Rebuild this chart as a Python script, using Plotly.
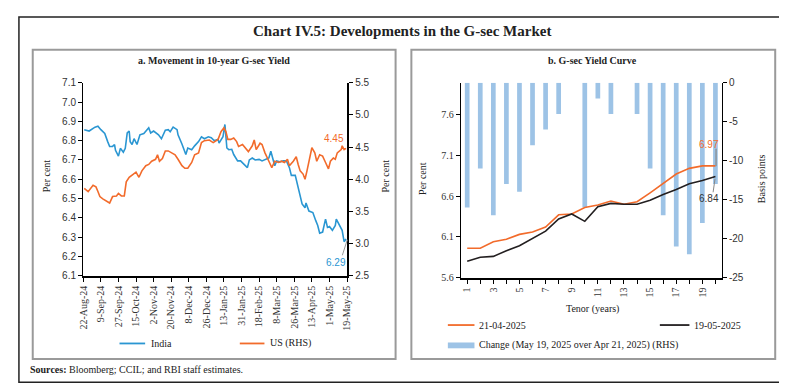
import plotly.graph_objects as go
import pandas as pd

W, H = 787, 387

def px(x):
    return x / W

def py(y):
    return 1 - y / H

# ---------------- Panel a data: 10-year yields ----------------
start_date = "2024-08-22"
india_day = [1, 6, 12, 15, 18, 22, 25, 27, 30, 32, 33, 36, 38, 41, 43, 45, 47, 48, 50, 52,
             55, 58, 62, 65, 67, 69, 72, 77, 80, 84, 87, 89, 92, 96, 97, 101, 103, 105, 107, 111,
             114, 118, 121, 124, 128, 131, 134, 138, 139, 143, 145, 147, 149, 152, 154, 158, 161, 164, 168, 170,
             173, 176, 180, 183, 186, 190, 192, 194, 196, 198, 201, 205, 208, 211, 213, 217, 219, 222, 224, 227,
             228, 231, 235, 238, 240, 242, 245, 247, 248, 250, 252, 255, 258, 259, 262, 265, 267, 269]
india_yield = [6.857, 6.85, 6.87, 6.875, 6.857, 6.837, 6.795, 6.77, 6.77, 6.78, 6.75, 6.72, 6.76, 6.74, 6.76, 6.84, 6.85, 6.795, 6.78, 6.81,
               6.78, 6.83, 6.837, 6.857, 6.867, 6.84, 6.85, 6.83, 6.81, 6.854, 6.857, 6.846, 6.87, 6.857, 6.83, 6.783, 6.753, 6.728, 6.762, 6.753,
               6.773, 6.795, 6.82, 6.81, 6.82, 6.815, 6.80, 6.807, 6.787, 6.82, 6.884, 6.762, 6.753, 6.755, 6.728, 6.695, 6.695, 6.678, 6.66, 6.70,
               6.71, 6.70, 6.703, 6.695, 6.70, 6.71, 6.745, 6.71, 6.67, 6.695, 6.69, 6.695, 6.695, 6.66, 6.62, 6.62, 6.577, 6.52, 6.472, 6.452,
               6.477, 6.435, 6.427, 6.385, 6.36, 6.32, 6.326, 6.371, 6.393, 6.35, 6.355, 6.335, 6.36, 6.393, 6.36, 6.335, 6.276, 6.29]

us_day = [1, 5, 10, 13, 15, 17, 20, 23, 27, 30, 34, 36, 39, 42, 44, 47, 50, 54, 57, 60,
          64, 67, 70, 74, 76, 78, 81, 84, 87, 91, 94, 97, 101, 104, 107, 111, 114, 118, 121, 124,
          129, 133, 138, 141, 144, 146, 148, 151, 154, 157, 159, 163, 166, 169, 173, 175, 177, 181, 183, 186,
          190, 193, 196, 200, 203, 206, 209, 211, 215, 218, 220, 222, 225, 227, 229, 232, 234, 237, 239, 242,
          245, 248, 251, 253, 256, 258, 260, 264, 265, 267, 269]
us_yield = [3.857, 3.807, 3.907, 3.88, 3.81, 3.73, 3.695, 3.665, 3.63, 3.73, 3.74, 3.78, 3.74, 3.74, 3.96, 4.03, 4.07, 4.11, 4.03, 4.13,
            4.21, 4.23, 4.28, 4.31, 4.38, 4.28, 4.32, 4.44, 4.44, 4.41, 4.38, 4.31, 4.21, 4.17, 4.17, 4.26, 4.38, 4.41, 4.57, 4.60,
            4.61, 4.57, 4.62, 4.74, 4.80, 4.74, 4.62, 4.62, 4.64, 4.585, 4.51, 4.54, 4.49, 4.43, 4.52, 4.61, 4.46, 4.56, 4.54, 4.41,
            4.28, 4.18, 4.28, 4.26, 4.28, 4.26, 4.31, 4.21, 4.28, 4.35, 4.23, 4.13, 4.08, 4.00, 4.13, 4.33, 4.49, 4.41, 4.28, 4.38,
            4.36, 4.26, 4.16, 4.28, 4.33, 4.31, 4.41, 4.46, 4.52, 4.46, 4.48]

# ---------------- Panel b data: yield curve ----------------
tenor = list(range(1, 21))
tenor_labels = ["1", "", "3", "", "5", "", "7", "", "9", "", "11", "", "13", "", "15", "", "17", "", "19", ""]
yield_apr21 = [5.96, 5.96, 6.04, 6.07, 6.13, 6.16, 6.22, 6.37, 6.38, 6.46, 6.49, 6.54, 6.50, 6.53,
               6.64, 6.76, 6.87, 6.94, 6.97, 6.97]
yield_may19 = [5.80, 5.85, 5.86, 5.93, 5.99, 6.08, 6.17, 6.32, 6.38, 6.29, 6.47, 6.51, 6.50, 6.50,
               6.55, 6.62, 6.68, 6.75, 6.79, 6.84]
change_bps = [-16, -11, -17, -13, -14, -8, -6, -4, 0, -16, -2, -4, 0, -4, -11, -17, -21, -22, -18, -13]
bps_ticks = [-25, -20, -15, -10, -5, 0]
bps_tick_labels = ["-25", "-20", "-15", "-10", "-5", "0"]

base = pd.Timestamp(start_date)
india_x = [base + pd.Timedelta(days=d) for d in india_day]
us_x = [base + pd.Timedelta(days=d) for d in us_day]

BLUE = "#2a96d2"
ORANGE = "#f26b2b"
BLACK = "#231f20"
BAR = "#9dc3e6"
SERIF = "Liberation Serif"
SANS = "Liberation Sans"

fig = go.Figure()
fig.add_trace(go.Scatter(x=india_x, y=india_yield, mode="lines", line=dict(color=BLUE, width=1.6),
                         xaxis="x", yaxis="y", showlegend=False))
fig.add_trace(go.Scatter(x=us_x, y=us_yield, mode="lines", line=dict(color=ORANGE, width=1.6),
                         xaxis="x", yaxis="y2", showlegend=False))
fig.add_trace(go.Bar(x=tenor, y=change_bps, marker=dict(color=BAR, line=dict(width=0)), width=0.36,
                     xaxis="x2", yaxis="y3", showlegend=False))
fig.add_trace(go.Scatter(x=tenor, y=yield_apr21, mode="lines", line=dict(color=ORANGE, width=1.6),
                         xaxis="x2", yaxis="y4", showlegend=False))
fig.add_trace(go.Scatter(x=tenor, y=yield_may19, mode="lines", line=dict(color=BLACK, width=1.6),
                         xaxis="x2", yaxis="y4", showlegend=False))

tickfont_sans = dict(family=SANS, size=10, color="#333")
tickfont_serif = dict(family=SERIF, size=10, color="#333")

fig.update_layout(
    width=W, height=H, margin=dict(l=0, r=0, t=0, b=0),
    paper_bgcolor="white", plot_bgcolor="white", showlegend=False,
    xaxis=dict(domain=[px(70), px(338)], anchor="y", type="date",
               range=["2024-08-21 18:00", "2025-05-19 06:00"],
               tick0=start_date, dtick=18 * 86400000, tickformat="%-d-%b-%y", tickangle=-90,
               ticks="outside", ticklen=4, tickcolor="black", showline=True, linecolor="black", linewidth=2,
               showgrid=False, zeroline=False, tickfont=tickfont_serif),
    yaxis=dict(domain=[py(270), py(71)], anchor="x", range=[6.1, 7.1], dtick=0.1, tickformat=".1f",
               ticks="outside", ticklen=4, tickcolor="black", showline=True, linecolor="black", linewidth=1,
               showgrid=False, zeroline=False, tickfont=tickfont_sans),
    yaxis2=dict(overlaying="y", side="right", anchor="x", range=[2.5, 5.5], dtick=0.5, tickformat=".1f",
                ticks="outside", ticklen=4, tickcolor="black", showline=True, linecolor="black", linewidth=2,
                showgrid=False, zeroline=False, tickfont=tickfont_sans),
    xaxis2=dict(domain=[px(453), px(718)], anchor="y3", range=[0.5, 20.5],
                tickmode="array", tickvals=tenor, ticktext=tenor_labels, tickangle=-90,
                ticks="outside", ticklen=4, tickcolor="black", showline=True, linecolor="black", linewidth=2,
                showgrid=False, zeroline=False, tickfont=tickfont_serif),
    yaxis3=dict(domain=[py(272), py(71)], anchor="x2", side="right", range=[-25, 0],
                tickmode="array", tickvals=bps_ticks, ticktext=bps_tick_labels,
                ticks="outside", ticklen=4, tickcolor="black", showline=True, linecolor="black", linewidth=1,
                showgrid=False, zeroline=False, tickfont=tickfont_sans),
    yaxis4=dict(overlaying="y3", side="left", anchor="x2", range=[5.6, 7.99],
                tickmode="array", tickvals=[5.6, 6.1, 6.6, 7.1, 7.6], tickformat=".1f",
                ticks="outside", ticklen=4, tickcolor="black", showline=True, linecolor="black", linewidth=1,
                showgrid=False, zeroline=False, tickfont=tickfont_serif),
)

shapes = []
# outer frame
shapes.append(dict(type="rect", xref="paper", yref="paper", x0=px(5), x1=px(780), y0=py(380), y1=py(3),
                   line=dict(color="#222", width=1.5)))
# panel boxes
for x0, x1 in [(19, 387), (403, 772)]:
    shapes.append(dict(type="rect", xref="paper", yref="paper", x0=px(x0), x1=px(x1), y0=py(356), y1=py(37),
                       line=dict(color="#9a9a9a", width=2)))
# legend swatches
shapes.append(dict(type="line", xref="paper", yref="paper", x0=px(107), x1=px(133), y0=py(340), y1=py(340),
                   line=dict(color=BLUE, width=1.8)))
shapes.append(dict(type="line", xref="paper", yref="paper", x0=px(229), x1=px(254), y0=py(340), y1=py(340),
                   line=dict(color=ORANGE, width=1.8)))
shapes.append(dict(type="line", xref="paper", yref="paper", x0=px(440), x1=px(467), y0=py(321), y1=py(321),
                   line=dict(color=ORANGE, width=1.8)))
shapes.append(dict(type="line", xref="paper", yref="paper", x0=px(655), x1=px(685), y0=py(321), y1=py(321),
                   line=dict(color=BLACK, width=1.8)))
shapes.append(dict(type="rect", xref="paper", yref="paper", x0=px(440), x1=px(467), y0=py(345), y1=py(339),
                   fillcolor=BAR, line=dict(width=0)))
# label leader lines
shapes.append(dict(type="line", xref="paper", yref="paper", x0=px(333), x1=px(338), y0=py(249), y1=py(233),
                   line=dict(color="#999", width=1)))
shapes.append(dict(type="line", xref="paper", yref="paper", x0=px(712), x1=px(712), y0=py(139), y1=py(157),
                   line=dict(color="#888", width=1.2)))
shapes.append(dict(type="line", xref="paper", yref="paper", x0=px(709), x1=px(711), y0=py(184), y1=py(170),
                   line=dict(color="#888", width=1)))

ann = []

def text(x, y, s, size=10, family=SERIF, color="#222", xanchor="center", yanchor="middle", angle=0):
    ann.append(dict(xref="paper", yref="paper", x=px(x), y=py(y), text=s, showarrow=False,
                    xanchor=xanchor, yanchor=yanchor, textangle=angle,
                    font=dict(family=family, size=size, color=color)))

text(393, 18, "<b>Chart IV.5: Developments in the G-sec Market</b>", size=15)
text(203, 48, "<b>a. Movement in 10-year G-sec Yield</b>", size=10)
text(587, 48, "<b>b. G-sec Yield Curve</b>", size=10)
text(33, 167, "Per cent", angle=-90)
text(377, 167, "Per cent", angle=-90)
text(415, 170, "Per cent", angle=-90)
text(758, 170, "Basis points", angle=-90)
text(587, 304, "Tenor (years)")
text(137, 340, "India", xanchor="left")
text(258, 340, "US (RHS)", xanchor="left")
text(470, 321, "21-04-2025", xanchor="left")
text(688, 321, "19-05-2025", xanchor="left")
text(470, 342, "Change (May 19, 2025 over Apr 21, 2025) (RHS)", xanchor="left")
text(14, 367, "<b>Sources:</b> Bloomberg; CCIL; and RBI staff estimates.", xanchor="left", size=10)
text(325, 129, "4.45", family=SANS, color=ORANGE, size=10)
text(327, 256, "6.29", family=SANS, color=BLUE, size=10)
text(705, 135, "6.97", family=SANS, color=ORANGE, size=10)
text(705, 190, "6.84", family=SANS, color="#333", size=10)

fig.update_layout(shapes=shapes, annotations=ann)
fig.write_html("out.html")
